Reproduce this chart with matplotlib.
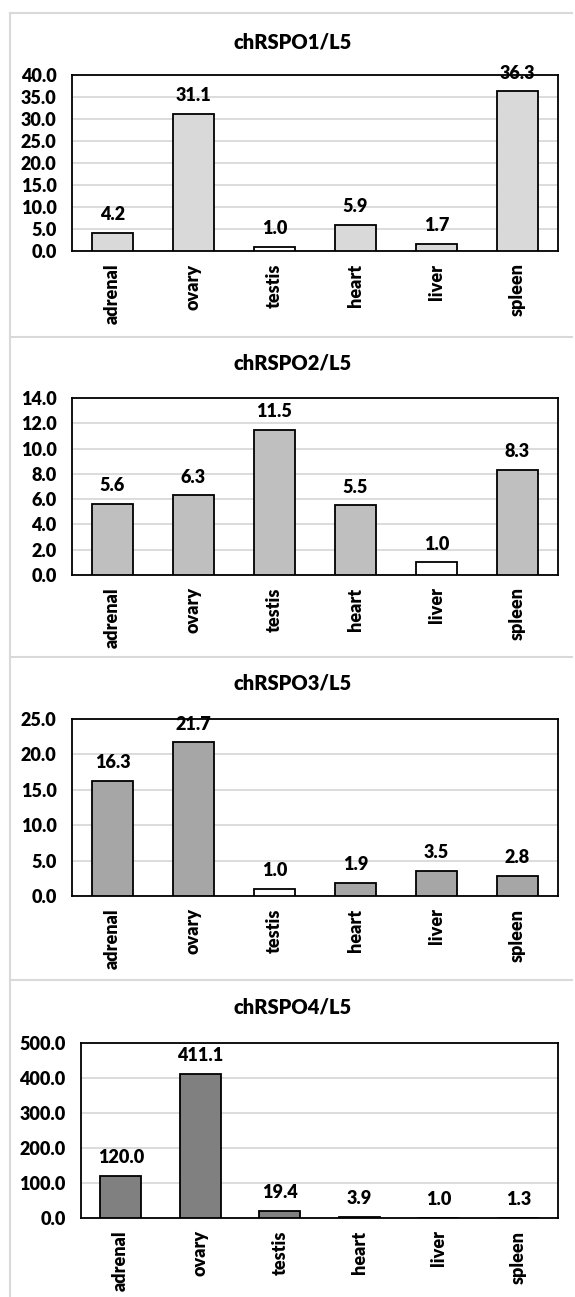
import matplotlib
matplotlib.use("Agg")
import matplotlib.pyplot as plt
from matplotlib.lines import Line2D

plt.rcParams['font.family'] = ['Lato', 'DejaVu Sans']
plt.rcParams['font.weight'] = 'heavy'

categories = ["adrenal", "ovary", "testis", "heart", "liver", "spleen"]
titles = ["chRSPO1/L5", "chRSPO2/L5", "chRSPO3/L5", "chRSPO4/L5"]
rspo1 = [4.2, 31.1, 1.0, 5.9, 1.7, 36.3]
rspo2 = [5.6, 6.3, 11.5, 5.5, 1.0, 8.3]
rspo3 = [16.3, 21.7, 1.0, 1.9, 3.5, 2.8]
rspo4 = [120.0, 411.1, 19.4, 3.9, 1.0, 1.3]
series = [rspo1, rspo2, rspo3, rspo4]
ymax = [40, 14, 25, 500]
ystep = [5, 2, 5, 100]
colors = ["#D9D9D9", "#BFBFBF", "#A6A6A6", "#808080"]

W, H = 575, 1297
fig = plt.figure(figsize=(W / 100, H / 100), dpi=100)

# panel geometry in pixels: (axes left, axes top, axes right, axes bottom, title y)
geo = [
    (72, 75, 558, 251, 42),
    (72, 398, 558, 575, 363),
    (72, 719, 558, 896, 683),
    (81, 1043, 558, 1218, 1007),
]
seps = [13, 337, 657, 980]

def fx(x):
    return x / W

def fy(y):
    return 1 - y / H

border_col = "#D9D9D9"
for s in seps:
    fig.add_artist(Line2D([fx(10), fx(572)], [fy(s), fy(s)], color=border_col, lw=1.5))
fig.add_artist(Line2D([fx(10), fx(10)], [fy(13), fy(1297)], color=border_col, lw=1.5))

FS = 13
for i, vals in enumerate(series):
    l, t, r, b, ty = geo[i]
    ax = fig.add_axes([fx(l), fy(b), (r - l) / W, (b - t) / H])
    x = list(range(len(categories)))
    fc = ["white" if v == 1.0 and v == min(vals) and i < 3 else colors[i] for v in vals]
    ax.bar(x, vals, width=0.51, color=fc, edgecolor="black", linewidth=1.3, zorder=3)
    ax.set_xlim(-0.5, len(categories) - 0.5)
    ax.set_ylim(0, ymax[i])
    ticks = [k * ystep[i] for k in range(int(ymax[i] / ystep[i]) + 1)]
    ax.set_yticks(ticks)
    ax.set_yticklabels([f"{v:.1f}" for v in ticks], fontsize=FS, fontweight="heavy")
    ax.set_xticks(x)
    ax.set_xticklabels(categories, rotation=90, fontsize=FS, fontweight="heavy")
    ax.tick_params(axis="both", length=0)
    ax.tick_params(axis="y", pad=11)
    ax.tick_params(axis="x", pad=9)
    ax.grid(axis="y", color="#D9D9D9", linewidth=1.3, zorder=0)
    ax.set_axisbelow(True)
    for sp in ax.spines.values():
        sp.set_linewidth(1.3)
        sp.set_color("black")
    for xi, v in zip(x, vals):
        ax.annotate(f"{v:.1f}", (xi, v), xytext=(0, 7), textcoords="offset points",
                    ha="center", va="bottom", fontsize=FS, fontweight="heavy", zorder=4)
    fig.text(fx(293), fy(ty), titles[i], ha="center", va="center", fontsize=14.5, fontweight="heavy")

fig.savefig("out.png", dpi=100)
